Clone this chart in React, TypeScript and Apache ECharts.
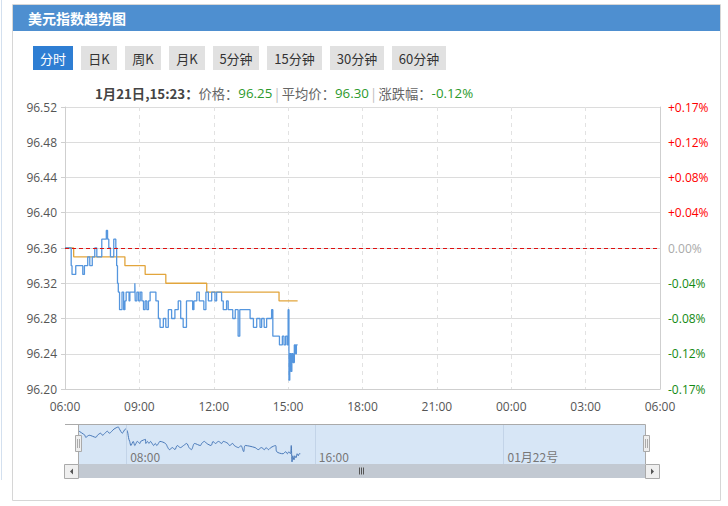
import React, { useEffect, useRef } from "react";
import * as echarts from "echarts";

const prevClose = 96.36;

const priceTimes = [
  "06:00", "06:15", "06:17", "06:26", "06:43", "06:47", "06:55", "07:00", "07:06", "07:12",
  "07:17", "07:29", "07:40", "07:43", "07:46", "07:50", "07:58", "08:03", "08:05", "08:07",
  "08:09", "08:12", "08:18", "08:22", "08:25", "08:28", "08:35", "08:37", "08:49", "08:50",
  "08:54", "08:58", "09:02", "09:06", "09:10", "09:14", "09:18", "09:22", "09:26", "09:40",
  "09:46", "09:50", "09:58", "10:04", "10:10", "10:18", "10:26", "10:34", "10:40", "10:46",
  "10:54", "11:09", "11:12", "11:19", "11:25", "11:36", "11:41", "11:47", "11:55", "12:03",
  "12:07", "12:19", "12:23", "12:31", "12:35", "12:46", "12:52", "12:59", "13:03", "13:28",
  "13:36", "13:44", "13:52", "13:56", "14:02", "14:08", "14:20", "14:23", "14:39", "14:46",
  "14:50", "14:54", "14:58", "15:00", "15:02", "15:04", "15:07", "15:09", "15:12", "15:15",
  "15:18", "15:20", "15:23",
];
const priceValues = [
  96.36, 96.34, 96.33, 96.34, 96.33, 96.34, 96.35, 96.34, 96.35, 96.36,
  96.35, 96.37, 96.38, 96.37, 96.36, 96.35, 96.37, 96.36, 96.34, 96.32,
  96.31, 96.29, 96.31, 96.29, 96.30, 96.31, 96.30, 96.31, 96.32, 96.30,
  96.31, 96.30, 96.31, 96.30, 96.29, 96.30, 96.29, 96.30, 96.31, 96.30,
  96.28, 96.27, 96.28, 96.27, 96.29, 96.28, 96.29, 96.30, 96.28, 96.27,
  96.30, 96.29, 96.30, 96.31, 96.30, 96.29, 96.31, 96.30, 96.31, 96.30,
  96.31, 96.30, 96.29, 96.30, 96.29, 96.28, 96.29, 96.26, 96.29, 96.28,
  96.27, 96.28, 96.27, 96.28, 96.27, 96.28, 96.29, 96.26, 96.25, 96.26,
  96.25, 96.26, 96.25, 96.29, 96.21, 96.24, 96.22, 96.24, 96.23, 96.25,
  96.24, 96.25, 96.25,
];

const avgTimes = ["06:00", "06:21", "08:25", "09:14", "10:04", "11:43", "14:38", "15:23"];
const avgValues = [96.36, 96.35, 96.34, 96.33, 96.32, 96.31, 96.30, 96.30];

const yMin = 96.2;
const yMax = 96.52;
const yStep = 0.04;
const xTickLabels = ["06:00", "09:00", "12:00", "15:00", "18:00", "21:00", "00:00", "03:00", "06:00"];

const tabs = ["分时", "日K", "周K", "月K", "5分钟", "15分钟", "30分钟", "60分钟"];
const tabWidths = [40, 36, 36, 36, 46, 55, 54, 54];

const overviewMinutes = [120, 600, 1080];
const overviewLabels = ["08:00", "16:00", "01月22号"];

const headerTime = "1月21日,15:23";
const headerPrice = "96.25";
const headerAvg = "96.30";
const headerChange = "-0.12%";

const NUM_FONT = "'Open Sans', 'Noto Sans CJK SC', sans-serif";
const CJK_FONT = "'Noto Sans CJK SC', 'Open Sans', sans-serif";

function toMin(t: string) {
  const [h, m] = t.split(":").map(Number);
  let v = h * 60 + m - 360;
  if (v < 0) v += 1440;
  return v;
}

function pctLabel(v: number) {
  const p = ((v - prevClose) / prevClose) * 100;
  if (Math.abs(p) < 0.005) return "0.00%";
  return (p > 0 ? "+" : "-") + Math.abs(p).toFixed(2) + "%";
}

export default function App() {
  const ref = useRef<HTMLDivElement>(null);

  useEffect(() => {
    if (!ref.current) return;
    const chart = echarts.init(ref.current, null, { renderer: "svg" });

    const priceData = priceTimes.map((t, i) => [toMin(t), priceValues[i]]);
    const avgData = avgTimes.map((t, i) => [toMin(t), avgValues[i]]);

    const graphics: any[] = [];
    graphics.push({
      type: "line", z: -20, silent: true,
      shape: { x1: 1.5, y1: 0, x2: 1.5, y2: 480 },
      style: { stroke: "#d3e0ef", lineWidth: 1 },
    });
    graphics.push({
      type: "rect", z: -20, silent: true,
      shape: { x: 12.5, y: 4.5, width: 708, height: 496 },
      style: { fill: "#fff", stroke: "#d6d6d6", lineWidth: 1 },
    });
    graphics.push({
      type: "rect", z: -19, silent: true,
      shape: { x: 13, y: 5, width: 707, height: 26 },
      style: { fill: "#4e8fd0" },
    });
    graphics.push({
      type: "text", z: 5, silent: true, x: 28, y: 18,
      style: {
        text: "美元指数趋势图", fill: "#fff", font: `bold 14px ${CJK_FONT}`,
        verticalAlign: "middle", align: "left",
      },
    });
    let tx = 33;
    tabs.forEach((t, i) => {
      const w = tabWidths[i];
      const active = i === 0;
      graphics.push({
        type: "rect", z: -18, silent: true,
        shape: { x: tx, y: 46, width: w, height: 24 },
        style: { fill: active ? "#2e7ed3" : "#e1e1e1" },
      });
      graphics.push({
        type: "text", z: 5, silent: true, x: tx + w / 2, y: 58,
        style: {
          text: t, fill: active ? "#fff" : "#333", font: `13px ${CJK_FONT}`,
          align: "center", verticalAlign: "middle",
        },
      });
      tx += w + 8;
    });
    graphics.push({
      type: "text", z: 5, silent: true, x: 95, y: 93,
      style: {
        text:
          `{b|${headerTime}：}{g|价格：}{v|${headerPrice}}{s| | }` +
          `{g|平均价：}{v|${headerAvg}}{s| | }{g|涨跌幅：}{v|${headerChange}}`,
        verticalAlign: "middle", align: "left",
        rich: {
          b: { font: `bold 13.3px ${CJK_FONT}`, fill: "#444" },
          g: { font: `13.3px ${CJK_FONT}`, fill: "#666" },
          v: { font: `13.3px ${NUM_FONT}`, fill: "#2c9a2c" },
          s: { font: `13.3px ${CJK_FONT}`, fill: "#bbb" },
        },
      },
    });

    graphics.push({
      type: "rect", z: -5, silent: true,
      shape: { x: 78, y: 425, width: 567, height: 39 },
      style: { fill: "#d7e6f6" },
    });
    graphics.push({
      type: "polyline", z: 6, silent: true,
      shape: { points: [[65, 424.5], [645.5, 424.5], [645.5, 464]] },
      style: { stroke: "#aaa", fill: null, lineWidth: 1 },
    });
    graphics.push({
      type: "line", z: 6, silent: true,
      shape: { x1: 78.5, y1: 424.5, x2: 78.5, y2: 464 },
      style: { stroke: "#aaa", lineWidth: 1 },
    });
    [75, 643].forEach((hx) => {
      graphics.push({
        type: "rect", z: 8, silent: true,
        shape: { x: hx + 0.5, y: 435.5, width: 6, height: 16 },
        style: { fill: "#eee", stroke: "#aaa", lineWidth: 1 },
      });
      [hx + 2.5, hx + 4.5].forEach((lx) => {
        graphics.push({
          type: "line", z: 9, silent: true,
          shape: { x1: lx, y1: 439, x2: lx, y2: 448 },
          style: { stroke: "#999", lineWidth: 0.8 },
        });
      });
    });
    graphics.push({
      type: "rect", z: 6, silent: true,
      shape: { x: 78, y: 464, width: 567, height: 14 },
      style: { fill: "#c2c9d2" },
    });
    [64.5, 645.5].forEach((bx, i) => {
      graphics.push({
        type: "rect", z: 7, silent: true,
        shape: { x: bx, y: 464.5, width: 14, height: 14 },
        style: { fill: "#efefef", stroke: "#aaa", lineWidth: 1 },
      });
      const cx = bx + 7;
      graphics.push({
        type: "polygon", z: 8, silent: true,
        shape: {
          points: i === 0
            ? [[cx + 1.5, 468.5], [cx + 1.5, 474.5], [cx - 1.5, 471.5]]
            : [[cx - 1.5, 468.5], [cx - 1.5, 474.5], [cx + 1.5, 471.5]],
        },
        style: { fill: "#555" },
      });
    });
    [359.5, 361.5, 363.5].forEach((lx) => {
      graphics.push({
        type: "line", z: 8, silent: true,
        shape: { x1: lx, y1: 467.5, x2: lx, y2: 474.5 },
        style: { stroke: "#555", lineWidth: 1 },
      });
    });

    const option: any = {
      animation: false,
      backgroundColor: "transparent",
      graphic: { elements: graphics },
      grid: [
        { left: 65, right: 68, top: 107, bottom: 117 },
        { left: 79, width: 566, top: 425, height: 39 },
      ],
      xAxis: [
        {
          type: "value", gridIndex: 0, min: 0, max: 1440, interval: 180,
          axisLine: { show: true, lineStyle: { color: "#cfcfcf" } },
          axisTick: { show: false },
          axisLabel: {
            color: "#555", fontSize: 12, fontFamily: NUM_FONT, margin: 11,
            formatter: (v: number) => xTickLabels[Math.round(v / 180)] ?? "",
          },
          splitLine: { show: true, lineStyle: { color: "#e2e2e2", type: [4, 4] } },
        },
        {
          type: "value", gridIndex: 1, min: 0, max: 1440,
          axisLine: { show: false },
          axisTick: { show: false },
          splitLine: { show: false },
          axisLabel: {
            show: true, inside: true, margin: 2,
            customValues: overviewMinutes,
            align: "left", padding: [0, 0, 0, 4],
            color: "#777", fontSize: 12, fontFamily: CJK_FONT,
            formatter: (v: number) => {
              const i = overviewMinutes.indexOf(Math.round(v));
              return i >= 0 ? overviewLabels[i] : "";
            },
          },
        },
      ],
      yAxis: [
        {
          type: "value", gridIndex: 0, min: yMin, max: yMax, interval: yStep,
          position: "left",
          axisLine: { show: true, lineStyle: { color: "#cfcfcf" } },
          axisTick: { show: true, length: 4, lineStyle: { color: "#cfcfcf" } },
          axisLabel: {
            color: "#555", fontSize: 12, fontFamily: NUM_FONT, margin: 8,
            formatter: (v: number) => v.toFixed(2),
          },
          splitLine: { show: true, lineStyle: { color: "#dcdcdc" } },
        },
        {
          type: "value", gridIndex: 0, min: yMin, max: yMax, interval: yStep,
          position: "right",
          axisLine: { show: true, lineStyle: { color: "#cfcfcf" } },
          axisTick: { show: false },
          splitLine: { show: false },
          axisLabel: {
            fontSize: 12, fontFamily: NUM_FONT, margin: 8,
            formatter: (v: number) => pctLabel(v),
            color: (v: any) => {
              const p = parseFloat(v) - prevClose;
              if (Math.abs(p) < 0.001) return "#aaaaaa";
              return p > 0 ? "#ff0000" : "#138a13";
            },
          },
        },
        {
          type: "value", gridIndex: 1, min: 96.2, max: 96.39, show: false,
        },
      ],
      series: [
        {
          type: "line", name: "价格", xAxisIndex: 0, yAxisIndex: 0,
          data: priceData, step: "end", showSymbol: false, symbol: "none",
          lineStyle: { color: "#5596de", width: 1.3 },
          z: 3,
          markLine: {
            silent: true, symbol: ["none", "none"], label: { show: false },
            lineStyle: { color: "#dd1111", type: [4, 3], width: 1 },
            data: [{ yAxis: prevClose }],
          },
        },
        {
          type: "line", name: "平均价", xAxisIndex: 0, yAxisIndex: 0,
          data: avgData, step: "end", showSymbol: false, symbol: "none",
          lineStyle: { color: "#e2a53c", width: 1.3 },
          z: 2,
        },
        {
          type: "line", name: "概览", xAxisIndex: 1, yAxisIndex: 2,
          data: priceData, showSymbol: false, symbol: "none", smooth: 0.3,
          lineStyle: { color: "#4878b8", width: 1 },
          z: 3,
          markLine: {
            silent: true, symbol: ["none", "none"], label: { show: false },
            lineStyle: { color: "#c3d4e8", type: "solid", width: 1 },
            data: overviewMinutes.map((m) => ({ xAxis: m })),
          },
        },
      ],
    };

    chart.setOption(option);
    return () => chart.dispose();
  }, []);

  return (
    <div
      ref={ref}
      style={{ position: "fixed", left: 0, top: 0, width: 728, height: 506, background: "#fff" }}
    />
  );
}
